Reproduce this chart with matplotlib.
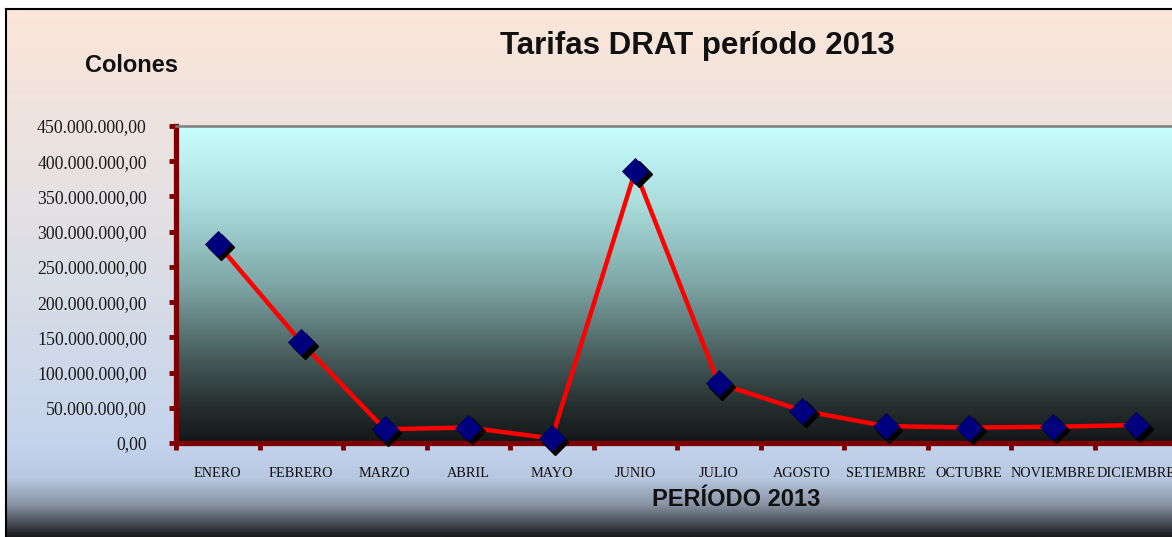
import numpy as np
import matplotlib.pyplot as plt
from matplotlib.colors import LinearSegmentedColormap
from matplotlib.ticker import FixedLocator, FuncFormatter
from matplotlib import transforms

meses   = ['ENERO', 'FEBRERO', 'MARZO', 'ABRIL', 'MAYO', 'JUNIO', 'JULIO',
           'AGOSTO', 'SETIEMBRE', 'OCTUBRE', 'NOVIEMBRE', 'DICIEMBRE']
tarifas = [282.5e6, 143e6, 19.5e6, 22e6, 6.5e6, 386.5e6, 84.5e6,
           46e6, 24e6, 22e6, 23e6, 25.5e6]                    # colones
yticks  = [0, 50e6, 100e6, 150e6, 200e6, 250e6, 300e6, 350e6, 400e6, 450e6]

W, H = 1172, 537
fig = plt.figure(figsize=(W/100, H/100), dpi=100)
fig.patch.set_facecolor('white')

# outer chart background (gradient + black border on top/left)
bg = fig.add_axes([6/W, 0, 1 - 6/W, (H-9)/H], zorder=0)
cm_bg = LinearSegmentedColormap.from_list('bg', [
    (0.00, '#fbe6d8'), (0.35, '#e6e1e3'), (0.60, '#d3dbe8'),
    (0.82, '#c4d4ec'), (0.89, '#b8c8e0'), (0.94, '#8894a4'), (1.00, '#1c1c1e')])
bg.imshow(np.linspace(0, 1, 256).reshape(-1, 1), cmap=cm_bg, aspect='auto',
          extent=[0, 1, 0, 1])
bg.set_xticks([]); bg.set_yticks([])
for s in ['right', 'bottom']:
    bg.spines[s].set_visible(False)
for s in ['top', 'left']:
    bg.spines[s].set_color('black')
    bg.spines[s].set_linewidth(1.5)

# plot area
left, bottom = 176/W, (H-443)/H
ax = fig.add_axes([left, bottom, 12*83.5/W, 317/H], zorder=1)
cm_pa = LinearSegmentedColormap.from_list('pa', [
    (0.00, '#c8ffff'), (0.25, '#aadcdc'), (0.50, '#7ea6a6'),
    (0.72, '#4a5f5f'), (0.88, '#263030'), (1.00, '#141616')])
ax.imshow(np.linspace(0, 1, 256).reshape(-1, 1), cmap=cm_pa, aspect='auto',
          extent=[-0.5, 11.5, 0, 450e6], zorder=0)

x = np.arange(len(meses))
ax.plot(x, tarifas, color='#ff0000', lw=3.2, zorder=3, solid_capstyle='round')
shadow = transforms.offset_copy(ax.transData, fig=fig, x=3.5, y=-3.5, units='dots')
ax.plot(x, tarifas, ls='none', marker='D', ms=13, color='black', transform=shadow,
        zorder=4, clip_on=False)
ax.plot(x, tarifas, ls='none', marker='D', ms=13, color='#00007f',
        markeredgecolor='#000060', markeredgewidth=0.6, zorder=5, clip_on=False)

ax.set_xlim(-0.5, 11.5)
ax.set_ylim(0, 450e6)

# axes styling
red = '#7f0000'
for s in ['left', 'bottom']:
    ax.spines[s].set_color(red)
    ax.spines[s].set_linewidth(3.8)
ax.spines['top'].set_color('#7f7f7f')
ax.spines['top'].set_linewidth(1.8)
ax.spines['right'].set_visible(False)

ax.yaxis.set_major_locator(FixedLocator(yticks))
ax.yaxis.set_major_formatter(FuncFormatter(
    lambda v, p: '{:,.2f}'.format(v).replace(',', 'X').replace('.', ',').replace('X', '.')))
ax.tick_params(axis='y', direction='out', length=5, width=3.5, color=red,
               pad=16, labelsize=12.8, labelcolor='#1a1a1a')
for lab in ax.get_yticklabels():
    lab.set_family('Liberation Serif')

ax.xaxis.set_major_locator(FixedLocator(np.arange(-0.5, 12, 1)))
ax.xaxis.set_major_formatter(FuncFormatter(lambda v, p: ''))
ax.xaxis.set_minor_locator(FixedLocator(x))
ax.xaxis.set_minor_formatter(FuncFormatter(lambda v, p: meses[int(round(v))]))
ax.tick_params(axis='x', which='major', direction='out', length=5, width=3.5, color=red)
ax.tick_params(axis='x', which='minor', length=0, pad=17, labelsize=10.3,
               labelcolor='#111111')
for lab in ax.get_xticklabels(minor=True):
    lab.set_family('Liberation Serif')

# texts
fig.text(697/W, 1 - 46/H, 'Tarifas DRAT período 2013', ha='center', va='center',
         fontsize=22.5, fontweight='bold', family='Liberation Sans', color='#111111')
fig.text(131/W, 1 - 65/H, 'Colones', ha='center', va='center',
         fontsize=17, fontweight='bold', family='Liberation Sans', color='#111111')
fig.text(736/W, 1 - 500/H, 'PERÍODO 2013', ha='center', va='center',
         fontsize=17, fontweight='bold', family='Liberation Sans', color='#111111')

fig.savefig('out.png', dpi=100)
